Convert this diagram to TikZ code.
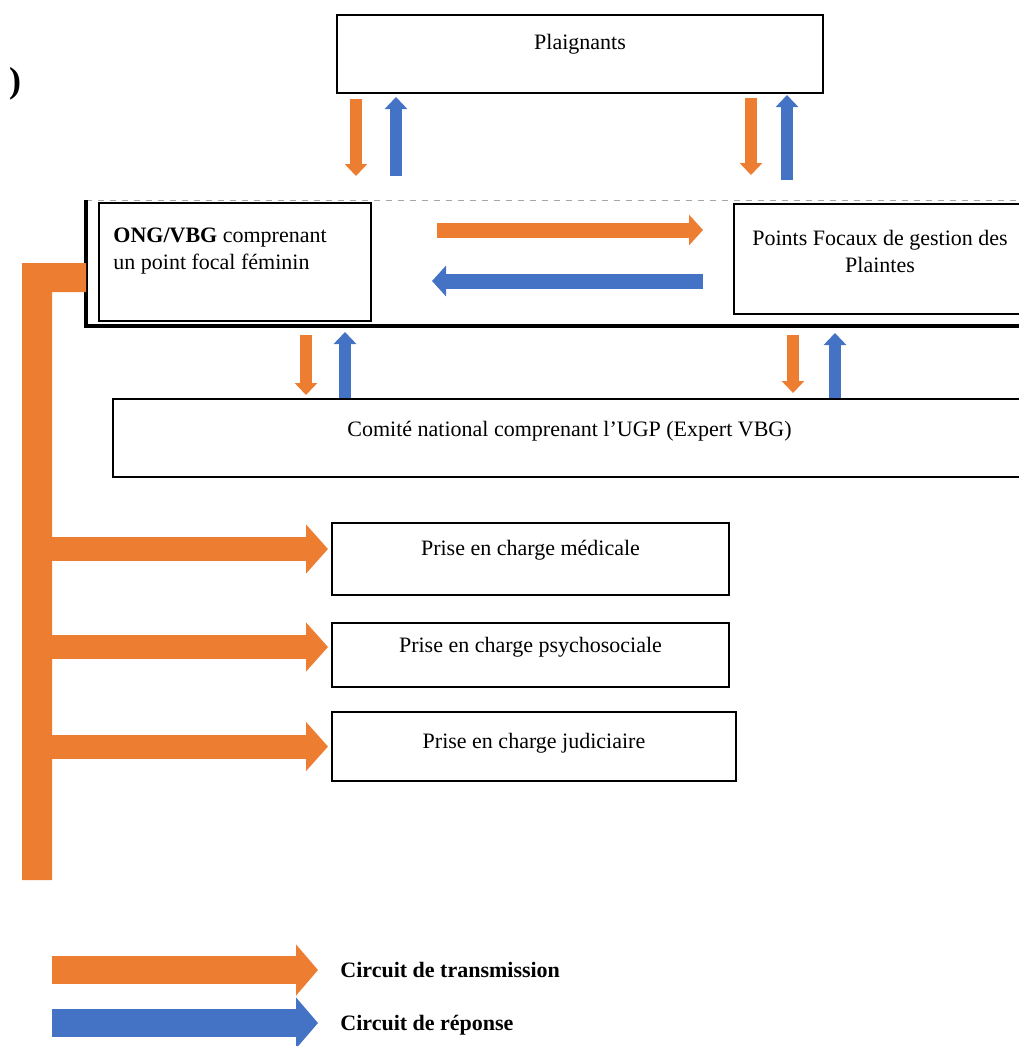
\documentclass[tikz,border=0pt]{standalone}
\usepackage{fontspec}
\setmainfont{Liberation Serif}
\usetikzlibrary{arrows.meta,calc}
\definecolor{txorange}{HTML}{ED7D31}
\definecolor{rpblue}{HTML}{4472C4}
\tikzset{
  box/.style 2 args={draw=black, line width=1pt, anchor=north west, inner sep=0pt,
    minimum width=#1, minimum height=#2},
  txt/.style={font=\fontsize{11}{13.5}\selectfont, inner sep=0pt, anchor=north},
  legendtxt/.style={font=\fontsize{11}{13.5}\selectfont\bfseries, inner sep=0pt, anchor=west},
  txsmall/.style={draw=txorange, line width=6pt, -{Triangle[width=11pt, length=6pt]}},
  rpsmall/.style={draw=rpblue, line width=6pt, -{Triangle[width=11pt, length=6pt]}},
  txmid/.style={draw=txorange, line width=7.5pt, -{Triangle[width=15pt, length=7pt]}},
  rpmid/.style={draw=rpblue, line width=7.5pt, -{Triangle[width=15pt, length=7pt]}},
  txbig/.style={draw=txorange, line width=12pt, -{Triangle[width=24pt, length=11pt]}},
  txlegend/.style={draw=txorange, line width=14pt, -{Triangle[width=25pt, length=11pt]}},
  rplegend/.style={draw=rpblue, line width=14pt, -{Triangle[width=25pt, length=11pt]}}
}
\begin{document}
\begin{tikzpicture}[x=0.5pt, y=-0.5pt]
    %%%%% START %%%%%
    \useasboundingbox (0,0) rectangle (1019,1046);

    \node[inner sep=0pt, font=\fontsize{18}{18}\selectfont\bfseries] (cut) at (15,84) {)};

    % boxes
    \node[box={243pt}{39pt}, label={[txt, yshift=-10pt]north:Plaignants}] (plg) at (336,14) {};
    \node[box={136pt}{59pt}, label={[txt, anchor=north west, align=left, xshift=7.5pt, yshift=-13pt]north west:{\textbf{ONG/VBG} comprenant\\un point focal féminin}}] (ong) at (98,202) {};
    \node[box={146pt}{55pt}, label={[txt, align=center, yshift=-13.5pt]north:{Points Focaux de gestion des\\Plaintes}}] (pf) at (733,203) {};
    \node[box={456.5pt}{39pt}, label={[txt, yshift=-11.5pt]north:Comité national comprenant l'UGP (Expert VBG)}] (com) at (112,398) {};
    \node[box={198.5pt}{36pt}, label={[txt, yshift=-9pt]north:Prise en charge médicale}] (med) at (331,522) {};
    \node[box={198.5pt}{32pt}, label={[txt, yshift=-7.5pt]north:Prise en charge psychosociale}] (psy) at (331,622) {};
    \node[box={202pt}{34.5pt}, label={[txt, yshift=-11pt]north:Prise en charge judiciaire}] (jud) at (331,711) {};

    % frame round ONG and points focaux
    \draw[black!35, dashed, line width=0.5pt] (86,200) -- (1019,200);
    \draw[line width=2pt] (86,200) -- (86,326) -- (1025,326);

    % plaignants <-> frame
    \draw[txsmall] ($(plg.south west)+(20,5)$) -- ($(ong.north -| plg.south west)+(20,-26)$);
    \draw[rpsmall] ($(ong.north -| plg.south west)+(60,-26)$) -- ($(plg.south west)+(60,3)$);
    \draw[txsmall] ($(plg.south east)+(-73,4)$) -- ($(pf.north -| plg.south east)+(-73,-28)$);
    \draw[rpsmall] ($(pf.north -| plg.south east)+(-37,-23)$) -- ($(plg.south east)+(-37,1)$);

    % ONG <-> points focaux
    \draw[txmid] ($(ong.north east)+(65,28)$) -- ($(ong.north east -| pf.west)+(-30,28)$);
    \draw[rpmid] ($(ong.north east -| pf.west)+(-30,79)$) -- ($(ong.north east)+(60,79)$);

    % frame <-> comite
    \draw[txsmall] ($(ong.south west)+(208,13)$) -- ($(com.north -| ong.south west)+(208,-3)$);
    \draw[rpsmall] ($(com.north -| ong.south west)+(247,0)$) -- ($(ong.south west)+(247,10)$);
    \draw[txsmall] ($(pf.south west)+(60,20)$) -- ($(com.north -| pf.south west)+(60,-5)$);
    \draw[rpsmall] ($(com.north -| pf.south west)+(102,0)$) -- ($(pf.south west)+(102,18)$);

    % orange bracket
    \coordinate (bar) at (52,292);
    \fill[txorange] (22,263) -- (86,263) -- (86,292) -- (bar) -- (52,880) -- (22,880) -- cycle;

    \draw[txbig] ($(med.west -| bar)+(0,-10)$) -- ($(med.west)+(-3,-10)$);
    \draw[txbig] ($(psy.west -| bar)+(0,-8)$) -- ($(psy.west)+(-3,-8)$);
    \draw[txbig] ($(jud.west -| bar)+(0,0)$) -- ($(jud.west)+(-3,0)$);

    % legend
    \node[legendtxt] (lgtx) at (340,970) {Circuit de transmission};
    \node[legendtxt] (lgrp) at (340,1025) {Circuit de réponse};
    \draw[txlegend] ($(lgtx.west)+(-288,0)$) -- ($(lgtx.west)+(-22,0)$);
    \draw[rplegend] ($(lgrp.west)+(-288,-2)$) -- ($(lgrp.west)+(-22,-2)$);

    %%%%% END %%%%%
\end{tikzpicture}
\end{document}
